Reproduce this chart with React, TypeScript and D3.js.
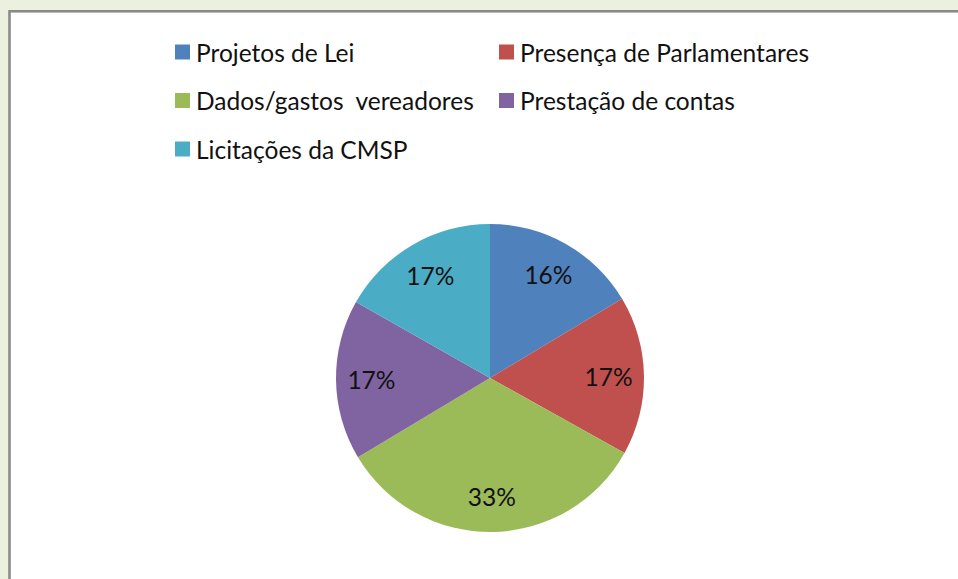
import React from "react";
import * as d3 from "d3";

const categories = [
  "Projetos de Lei",
  "Presença de Parlamentares",
  "Dados/gastos  vereadores",
  "Prestação de contas",
  "Licitações da CMSP",
];
const values = [16.4, 16.7, 33.3, 16.8, 16.8];
const colors = ["#4F81BD", "#C0504D", "#9BBB59", "#8064A2", "#4BACC6"];

const W = 958;
const H = 579;
const FONT = "Lato, Carlito, Calibri, sans-serif";

export default function App() {
  const cx = 490;
  const cy = 378;
  const r = 154;
  const total = d3.sum(values);
  const pie = d3.pie<number>().sort(null).value((d) => d)(values);
  const arc = d3.arc<d3.PieArcDatum<number>>().innerRadius(0).outerRadius(r);
  const labelArc = d3
    .arc<d3.PieArcDatum<number>>()
    .innerRadius(r * 0.77)
    .outerRadius(r * 0.77);

  const legendCols = [175, 499];
  const legendRows = [52, 100.5, 149];

  return (
    <svg
      width={W}
      height={H}
      style={{ position: "absolute", left: 0, top: 0, display: "block" }}
    >
      <rect x={0} y={0} width={W} height={H} fill="#EBF1DE" />
      <rect
        x={9.5}
        y={11.3}
        width={W + 20}
        height={H + 20}
        fill="#FFFFFF"
        stroke="#8A8A8A"
        strokeWidth={2.6}
      />
      <g transform={`translate(${cx},${cy})`}>
        {pie.map((p, i) => (
          <path key={i} d={arc(p) || ""} fill={colors[i]} />
        ))}
        {pie.map((p, i) => {
          const [x, y] = labelArc.centroid(p);
          return (
            <text
              key={"l" + i}
              x={x}
              y={y}
              textAnchor="middle"
              dominantBaseline="central"
              fontFamily={FONT}
              fontSize={24.5}
              fill="#111"
            >
              {Math.round((p.data / total) * 100) + "%"}
            </text>
          );
        })}
      </g>
      <g>
        {categories.map((c, i) => {
          const col = i % 2;
          const row = Math.floor(i / 2);
          const x = legendCols[col];
          const y = legendRows[row];
          return (
            <g key={c} transform={`translate(${x},${y})`}>
              <rect x={0} y={-7.5} width={15} height={15} fill={colors[i]} />
              <text
                x={21}
                y={0}
                dominantBaseline="central"
                fontFamily={FONT}
                fontSize={24.5}
                fill="#111"
                style={{ whiteSpace: "pre" }}
              >
                {c}
              </text>
            </g>
          );
        })}
      </g>
    </svg>
  );
}
